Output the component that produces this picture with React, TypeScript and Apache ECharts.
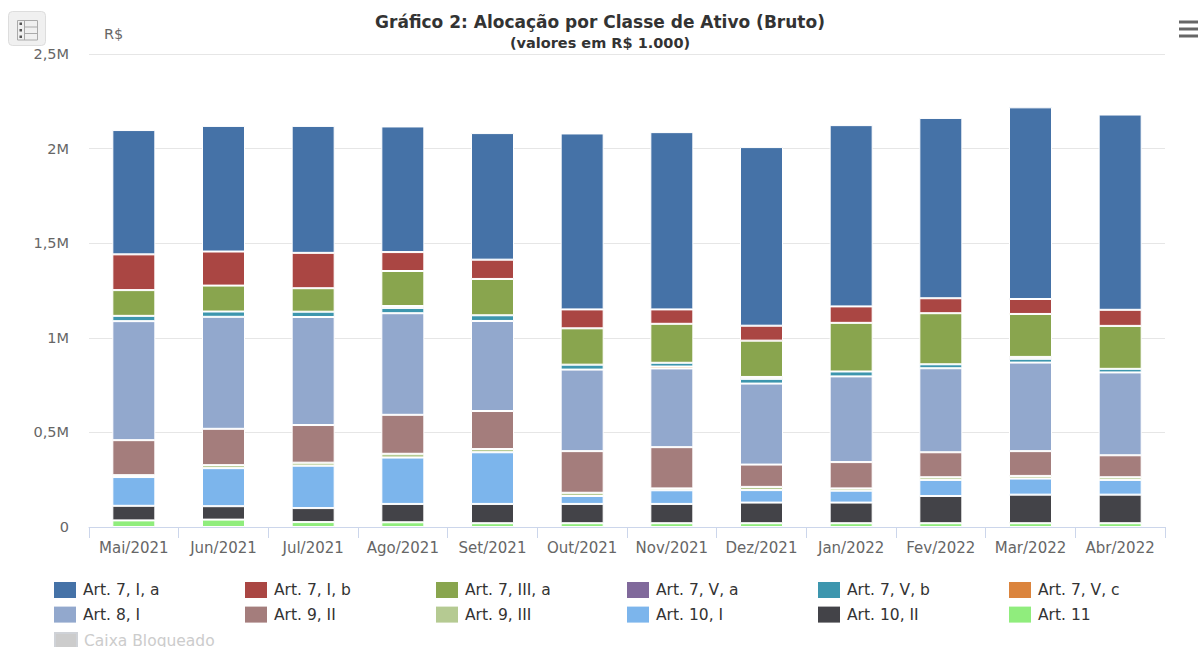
import React, { useEffect, useRef } from "react";
import * as echarts from "echarts";

const months = ["Mai/2021","Jun/2021","Jul/2021","Ago/2021","Set/2021","Out/2021","Nov/2021","Dez/2021","Jan/2022","Fev/2022","Mar/2022","Abr/2022"];

// values in R$ 1.000
const art7Ia = [657,664,671,664,669,930,937,944,958,953,1013,1032];
const art7Ib = [189,180,187,100,102,100,76,79,87,79,79,85];
const art7IIIa = [136,137,124,185,192,192,206,192,257,270,227,227];
const art7Va = [null,null,null,10,null,null,null,10,null,null,10,null];
const art7Vb = [28,28,28,28,30,26,20,25,26,21,20,19];
const art7Vc = [null,null,null,null,null,null,10,null,null,null,null,null];
const art8I = [629,592,571,537,476,431,416,428,453,444,468,438];
const art9II = [185,192,199,206,201,220,218,118,139,132,131,116];
const art9III = [10,16,16,20,17,17,10,17,12,14,14,14];
const art10I = [152,201,224,245,273,42,72,66,63,85,85,78];
const art10II = [77,71,74,97,102,102,102,109,109,144,151,151];
const art11 = [35,39,26,25,20,20,20,20,20,20,20,20];
const caixa = months.map(() => null);

const seriesDefs: [string, (number | null)[], string][] = [
  ["Art. 7, I, a", art7Ia, "#4572A7"],
  ["Art. 7, I, b", art7Ib, "#AA4643"],
  ["Art. 7, III, a", art7IIIa, "#89A54E"],
  ["Art. 7, V, a", art7Va, "#80699B"],
  ["Art. 7, V, b", art7Vb, "#3D96AE"],
  ["Art. 7, V, c", art7Vc, "#DB843D"],
  ["Art. 8, I", art8I, "#92A8CD"],
  ["Art. 9, II", art9II, "#A47D7C"],
  ["Art. 9, III", art9III, "#B5CA92"],
  ["Art. 10, I", art10I, "#7cb5ec"],
  ["Art. 10, II", art10II, "#434348"],
  ["Art. 11", art11, "#90ed7d"],
  ["Caixa Bloqueado", caixa, "#cccccc"],
];

const legendColumns = [
  ["Art. 7, I, a", "Art. 8, I"],
  ["Art. 7, I, b", "Art. 9, II"],
  ["Art. 7, III, a", "Art. 9, III"],
  ["Art. 7, V, a", "Art. 10, I"],
  ["Art. 7, V, b", "Art. 10, II"],
  ["Art. 7, V, c", "Art. 11"],
];
const hiddenLegend = ["Caixa Bloqueado"];

const FONT = "DejaVu Sans";

const legendBase = {
  orient: "vertical",
  padding: 0,
  icon: "rect",
  itemWidth: 22,
  itemHeight: 16,
  itemGap: 8.6,
  inactiveColor: "#cccccc",
  itemStyle: { borderWidth: 0 },
  textStyle: { fontFamily: FONT, fontSize: 15.5, color: "#333333", padding: [0, 0, 0, 2] },
};

export default function App() {
  const ref = useRef<HTMLDivElement>(null);
  useEffect(() => {
    document.body.style.margin = "0";
    document.body.style.overflow = "hidden";
    const chart = echarts.init(ref.current!, undefined, { renderer: "svg" });
    chart.setOption({
      animation: false,
      backgroundColor: "#ffffff",
      textStyle: { fontFamily: FONT },
      title: [
        { text: "Gráfico 2: Alocação por Classe de Ativo (Bruto)", left: 600, top: 13, textAlign: "center", padding: 0,
          textStyle: { fontFamily: FONT, fontSize: 17, fontWeight: "bold", color: "#333333" } },
        { text: "(valores em R$ 1.000)", left: 600, top: 35, textAlign: "center", padding: 0,
          textStyle: { fontFamily: FONT, fontSize: 14.5, fontWeight: "bold", color: "#333333" } },
      ],
      grid: { left: 89, right: 33, top: 54, bottom: 120, containLabel: false },
      legend: [
        ...legendColumns.map((data, i) => ({ ...legendBase, data, left: 54 + i * 191, top: 582 })),
        { ...legendBase, data: hiddenLegend, left: 54, top: 632, selected: { "Caixa Bloqueado": false } },
      ],
      xAxis: {
        type: "category",
        data: months,
        axisLine: { lineStyle: { color: "#ccd6eb", width: 1 } },
        axisTick: { show: true, length: 11, alignWithLabel: false, lineStyle: { color: "#ccd6eb" } },
        axisLabel: { color: "#666666", fontSize: 15, margin: 13, fontFamily: FONT, interval: 0 },
      },
      yAxis: {
        type: "value",
        min: 0,
        max: 2500,
        interval: 500,
        name: "R$",
        nameLocation: "end",
        nameGap: 13,
        nameTextStyle: { color: "#666666", fontSize: 14.5, align: "left", padding: [0, 0, 0, 15], fontFamily: FONT },
        axisLine: { show: false },
        axisTick: { show: false },
        splitLine: { lineStyle: { color: "#e6e6e6", width: 1 } },
        axisLabel: {
          color: "#666666", fontSize: 14.5, margin: 20, fontFamily: FONT,
          formatter: (v: number) => (v === 0 ? "0" : String(v / 1000).replace(".", ",") + "M"),
        },
      },
      series: [...seriesDefs].reverse().map(([name, data, color]) => ({
        name,
        type: "bar",
        stack: "total",
        data,
        barWidth: 43,
        itemStyle: { color, borderColor: "#ffffff", borderWidth: 1 },
      })),
      graphic: [
        { type: "rect", shape: { x: 8.5, y: 11.5, width: 37, height: 34, r: 4 }, style: { fill: "#f0f0f0", stroke: "#dddddd", lineWidth: 1 } },
        { type: "rect", shape: { x: 17.5, y: 20.5, width: 20, height: 19.5 }, style: { fill: "none", stroke: "#aaaaaa", lineWidth: 1 } },
        { type: "line", shape: { x1: 24.5, y1: 20.5, x2: 24.5, y2: 40 }, style: { stroke: "#aaaaaa", lineWidth: 1 } },
        { type: "line", shape: { x1: 24.5, y1: 27, x2: 37.5, y2: 27 }, style: { stroke: "#aaaaaa", lineWidth: 1 } },
        { type: "line", shape: { x1: 24.5, y1: 33.5, x2: 37.5, y2: 33.5 }, style: { stroke: "#aaaaaa", lineWidth: 1 } },
        { type: "rect", shape: { x: 19.5, y: 22.5, width: 2.5, height: 2.5 }, style: { fill: "#555555" } },
        { type: "rect", shape: { x: 19.5, y: 29, width: 2.5, height: 2.5 }, style: { fill: "#555555" } },
        { type: "rect", shape: { x: 19.5, y: 35.5, width: 2.5, height: 2.5 }, style: { fill: "#555555" } },
        { type: "rect", shape: { x: 1179, y: 20.5, width: 19, height: 3 }, style: { fill: "#666666" } },
        { type: "rect", shape: { x: 1179, y: 27.5, width: 19, height: 3 }, style: { fill: "#666666" } },
        { type: "rect", shape: { x: 1179, y: 34.5, width: 19, height: 3 }, style: { fill: "#666666" } },
      ],
    });
    return () => chart.dispose();
  }, []);
  return <div ref={ref} style={{ width: 1198, height: 647 }} />;
}
